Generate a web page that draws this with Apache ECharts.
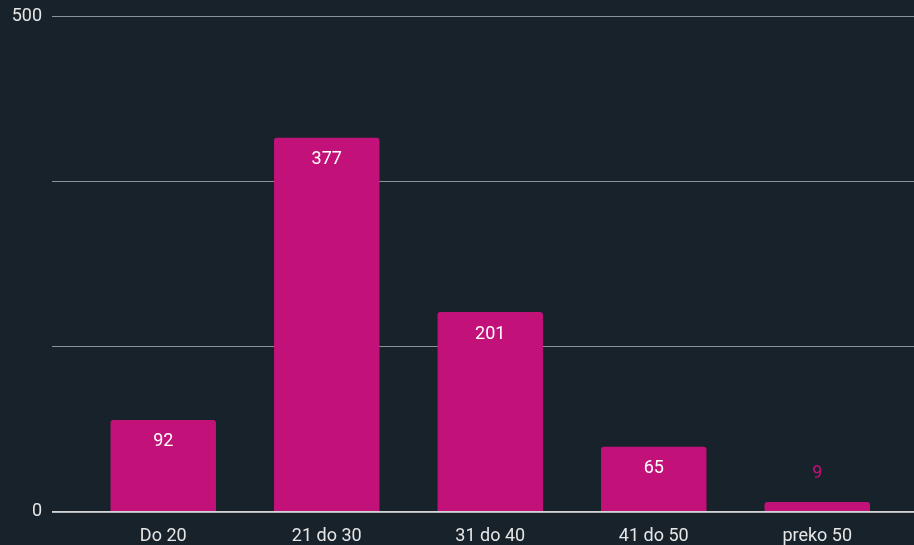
<!DOCTYPE html>
<html><head><meta charset="utf-8">
<script src="https://cdn.jsdelivr.net/npm/echarts@6/dist/echarts.min.js"></script>
<style>html,body{margin:0;padding:0;background:#17222b;}#c{width:914px;height:545px;}</style>
</head><body><div id="c"></div>
<script>
const categories = ['Do 20', '21 do 30', '31 do 40', '41 do 50', 'preko 50'];
const values = [92, 377, 201, 65, 9];
const yMax = 500;
const yTickLabels = ['0', '500'];

const chart = echarts.init(document.getElementById('c'));
const pink = '#c2127a';
const data = values.map(v => {
  const small = v < 30;
  return {
    value: v,
    label: small ? {position: 'top', color: pink, distance: 20} : {position: 'insideTop', color: '#ffffff', distance: 13}
  };
});
chart.setOption({
  backgroundColor: '#17222b',
  animation: false,
  textStyle: {fontFamily: 'Roboto'},
  grid: [
    {left: 52, right: 0, top: 16, bottom: 33.5},
    {left: 81.5, right: 15, top: 16, bottom: 33.5}
  ],
  xAxis: [
    {type: 'category', gridIndex: 0, data: categories, show: false},
    {type: 'category', gridIndex: 1, data: categories,
     axisLine: {show: false}, axisTick: {show: false},
     axisLabel: {color: '#e6e6e6', fontSize: 18, margin: 16, fontFamily: 'Roboto'}}
  ],
  yAxis: [
    {type: 'value', gridIndex: 0, min: 0, max: yMax, interval: yMax / 3,
     axisLine: {show: false}, axisTick: {show: false},
     axisLabel: {color: '#e6e6e6', fontSize: 18, margin: 10, fontFamily: 'Roboto', padding: [5, 0, 0, 0],
       formatter: v => (yTickLabels.includes(String(Math.round(v))) && Math.abs(v - Math.round(v)) < 1e-6) ? String(Math.round(v)) : ''},
     splitLine: {lineStyle: {color: '#8c9398', width: 1}}},
    {type: 'value', gridIndex: 1, min: 0, max: yMax, show: false, splitLine: {show: false}}
  ],
  series: [
    {type: 'bar', xAxisIndex: 1, yAxisIndex: 1, data: data, barWidth: '64.5%',
     itemStyle: {color: pink, borderRadius: [3, 3, 0, 0]},
     label: {show: true, fontSize: 18, fontFamily: 'Roboto'},
     z: 2},
    {type: 'line', xAxisIndex: 0, yAxisIndex: 0, data: [], 
     markLine: {silent: true, symbol: 'none', label: {show: false},
       lineStyle: {color: '#e8e8e8', width: 1.5, type: 'solid'},
       data: [{yAxis: 0}]}, z: 3}
  ]
});
</script></body></html>
